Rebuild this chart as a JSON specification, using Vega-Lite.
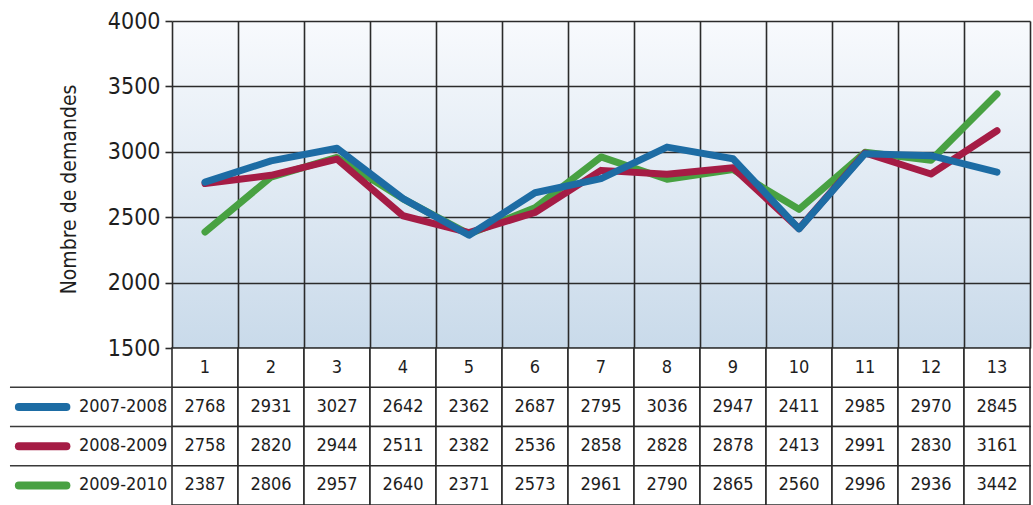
{
  "$schema": "https://vega.github.io/schema/vega-lite/v6.json",
  "width": 858,
  "height": 327,
  "autosize": "none",
  "padding": {"left": 172, "top": 21, "right": 3, "bottom": 157},
  "background": "white",
  "config": {
    "font": "DejaVu Sans Condensed, Roboto, sans-serif",
    "view": {"stroke": null, "fill": {"gradient": "linear", "x1": 0, "y1": 0, "x2": 0, "y2": 1, "stops": [{"offset": 0, "color": "#f8fafd"}, {"offset": 1, "color": "#c9daea"}]}}
  },
  "datasets": {
    "demandes": [
      {"mois": 1, "serie": "2007-2008", "demandes": 2768},
      {"mois": 2, "serie": "2007-2008", "demandes": 2931},
      {"mois": 3, "serie": "2007-2008", "demandes": 3027},
      {"mois": 4, "serie": "2007-2008", "demandes": 2642},
      {"mois": 5, "serie": "2007-2008", "demandes": 2362},
      {"mois": 6, "serie": "2007-2008", "demandes": 2687},
      {"mois": 7, "serie": "2007-2008", "demandes": 2795},
      {"mois": 8, "serie": "2007-2008", "demandes": 3036},
      {"mois": 9, "serie": "2007-2008", "demandes": 2947},
      {"mois": 10, "serie": "2007-2008", "demandes": 2411},
      {"mois": 11, "serie": "2007-2008", "demandes": 2985},
      {"mois": 12, "serie": "2007-2008", "demandes": 2970},
      {"mois": 13, "serie": "2007-2008", "demandes": 2845},
      {"mois": 1, "serie": "2008-2009", "demandes": 2758},
      {"mois": 2, "serie": "2008-2009", "demandes": 2820},
      {"mois": 3, "serie": "2008-2009", "demandes": 2944},
      {"mois": 4, "serie": "2008-2009", "demandes": 2511},
      {"mois": 5, "serie": "2008-2009", "demandes": 2382},
      {"mois": 6, "serie": "2008-2009", "demandes": 2536},
      {"mois": 7, "serie": "2008-2009", "demandes": 2858},
      {"mois": 8, "serie": "2008-2009", "demandes": 2828},
      {"mois": 9, "serie": "2008-2009", "demandes": 2878},
      {"mois": 10, "serie": "2008-2009", "demandes": 2413},
      {"mois": 11, "serie": "2008-2009", "demandes": 2991},
      {"mois": 12, "serie": "2008-2009", "demandes": 2830},
      {"mois": 13, "serie": "2008-2009", "demandes": 3161},
      {"mois": 1, "serie": "2009-2010", "demandes": 2387},
      {"mois": 2, "serie": "2009-2010", "demandes": 2806},
      {"mois": 3, "serie": "2009-2010", "demandes": 2957},
      {"mois": 4, "serie": "2009-2010", "demandes": 2640},
      {"mois": 5, "serie": "2009-2010", "demandes": 2371},
      {"mois": 6, "serie": "2009-2010", "demandes": 2573},
      {"mois": 7, "serie": "2009-2010", "demandes": 2961},
      {"mois": 8, "serie": "2009-2010", "demandes": 2790},
      {"mois": 9, "serie": "2009-2010", "demandes": 2865},
      {"mois": 10, "serie": "2009-2010", "demandes": 2560},
      {"mois": 11, "serie": "2009-2010", "demandes": 2996},
      {"mois": 12, "serie": "2009-2010", "demandes": 2936},
      {"mois": 13, "serie": "2009-2010", "demandes": 3442}
    ],
    "series": [
      {"serie": "2007-2008"},
      {"serie": "2008-2009"},
      {"serie": "2009-2010"}
    ]
  },
  "data": {"name": "demandes"},
  "layer": [
    {
      "encoding": {
        "x": {"field": "mois", "type": "quantitative", "title": null,
          "scale": {"domain": [0.5, 13.5], "nice": false, "zero": false},
          "axis": {"values": [0.5, 1.5, 2.5, 3.5, 4.5, 5.5, 6.5, 7.5, 8.5, 9.5, 10.5, 11.5, 12.5, 13.5], "grid": true, "gridColor": "#2b2b2b", "gridWidth": 1.6, "gridOpacity": 1, "labels": false, "ticks": false, "domain": false, "title": null}},
        "y": {"field": "demandes", "type": "quantitative",
          "scale": {"domain": [1500, 4000], "nice": false, "zero": false},
          "axis": {"values": [1500, 2000, 2500, 3000, 3500, 4000], "format": "d", "grid": true, "gridColor": "#2b2b2b", "gridWidth": 1.6, "gridOpacity": 1, "domain": false, "tickSize": 7, "tickColor": "#2b2b2b", "tickWidth": 1.6, "labelPadding": 5, "labelFontSize": 23, "labelColor": "#1e1e1e", "labelFont": "DejaVu Sans Condensed, Roboto, sans-serif", "title": "Nombre de demandes", "titleFont": "DejaVu Sans Condensed, Roboto, sans-serif", "titleFontSize": 21, "titleFontWeight": "normal", "titleColor": "#1e1e1e", "titleX": -97, "titleY": 168, "titleAngle": -90, "titleBaseline": "alphabetic", "titleAlign": "center"}},
        "color": {"field": "serie", "type": "nominal",
          "scale": {"domain": ["2007-2008", "2008-2009", "2009-2010"], "range": ["#1d6ca4", "#a51c45", "#48a142"]},
          "legend": null}
      },
      "layer": [
        {"transform": [{"filter": {"field": "serie", "equal": "2009-2010"}}],
         "mark": {"type": "line", "strokeWidth": 7, "strokeCap": "round", "strokeJoin": "round"}},
        {"transform": [{"filter": {"field": "serie", "equal": "2008-2009"}}],
         "mark": {"type": "line", "strokeWidth": 7, "strokeCap": "round", "strokeJoin": "round"}},
        {"transform": [{"filter": {"field": "serie", "equal": "2007-2008"}}],
         "mark": {"type": "line", "strokeWidth": 7, "strokeCap": "round", "strokeJoin": "round"}}
      ]
    },
    {
      "layer": [
        {
          "mark": {"type": "rect", "width": 66, "fill": "white", "stroke": "#2b2b2b", "strokeWidth": 1.6},
          "encoding": {
            "x": {"field": "mois", "type": "quantitative", "title": null},
            "y": {"field": "serie", "type": "nominal", "axis": null,
              "scale": {"domain": ["header", "2007-2008", "2008-2009", "2009-2010"], "range": [327, 484], "paddingInner": 0, "paddingOuter": 0}}
          }
        },
        {
          "transform": [{"filter": {"field": "serie", "equal": "2007-2008"}}],
          "mark": {"type": "rect", "width": 66, "fill": "white", "stroke": "#2b2b2b", "strokeWidth": 1.6},
          "encoding": {
            "x": {"field": "mois", "type": "quantitative", "title": null},
            "y": {"datum": "header", "type": "nominal", "axis": null}
          }
        },
        {
          "data": {"name": "series"},
          "mark": {"type": "rule", "stroke": "#3a3a3a", "strokeWidth": 1.6},
          "encoding": {
            "x": {"datum": -1.955, "type": "quantitative", "title": null},
            "x2": {"datum": 0.5},
            "y": {"field": "serie", "type": "nominal", "axis": null, "bandPosition": 0}
          }
        },
        {
          "data": {"name": "series"},
          "mark": {"type": "rule", "strokeWidth": 8, "strokeCap": "round"},
          "encoding": {
            "x": {"datum": -1.82, "type": "quantitative", "title": null},
            "x2": {"datum": -1.1},
            "y": {"field": "serie", "type": "nominal", "axis": null, "bandPosition": 0.5},
            "color": {"field": "serie", "type": "nominal", "legend": null}
          }
        },
        {
          "data": {"name": "series"},
          "mark": {"type": "text", "align": "left", "baseline": "middle", "fontSize": 18, "font": "DejaVu Sans Condensed, Roboto, sans-serif", "fill": "#1e1e1e"},
          "encoding": {
            "x": {"datum": -0.91, "type": "quantitative", "title": null},
            "y": {"field": "serie", "type": "nominal", "axis": null, "bandPosition": 0.5},
            "text": {"field": "serie"}
          }
        },
        {
          "mark": {"type": "text", "align": "center", "baseline": "middle", "fontSize": 18, "font": "DejaVu Sans Condensed, Roboto, sans-serif", "fill": "#1e1e1e"},
          "encoding": {
            "x": {"field": "mois", "type": "quantitative", "title": null},
            "y": {"field": "serie", "type": "nominal", "axis": null, "bandPosition": 0.5},
            "text": {"field": "demandes"}
          }
        },
        {
          "transform": [{"filter": {"field": "serie", "equal": "2007-2008"}}],
          "mark": {"type": "text", "align": "center", "baseline": "middle", "fontSize": 18, "font": "DejaVu Sans Condensed, Roboto, sans-serif", "fill": "#1e1e1e"},
          "encoding": {
            "x": {"field": "mois", "type": "quantitative", "title": null},
            "y": {"datum": "header", "type": "nominal", "axis": null, "bandPosition": 0.5},
            "text": {"field": "mois"}
          }
        }
      ]
    }
  ],
  "resolve": {"scale": {"y": "independent"}, "axis": {"y": "independent"}}
}
